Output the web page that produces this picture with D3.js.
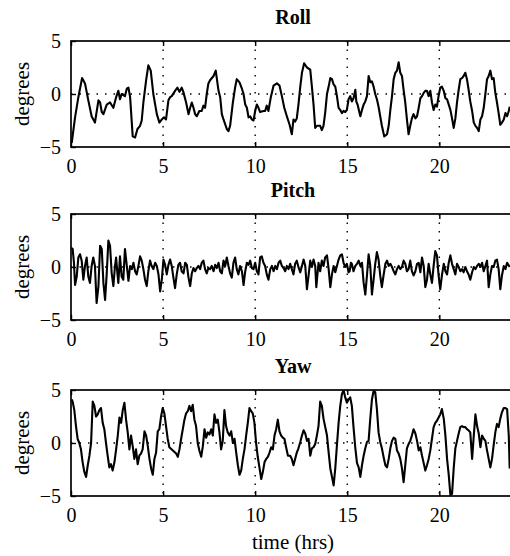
<!DOCTYPE html>
<html>
<head>
<meta charset="utf-8">
<script src="https://cdn.jsdelivr.net/npm/d3@7"></script>
<style>
  body { margin: 0; background: #fff; }
  text { font-family: "Liberation Serif", "Times New Roman", serif; fill: #000; }
</style>
</head>
<body>
<svg id="chart" width="510" height="556"></svg>
<script>
// Attitude angles over one day: [time (hrs), degrees]
const rollSamples = [[0.04,-4.6],[0.22,-2.2],[0.40,-0.3],[0.60,1.5],[0.76,1.0],[0.94,-0.6],[1.12,-2.1],[1.30,-2.7],[1.49,-0.6],[1.58,-0.8],[1.67,-1.7],[1.76,-1.9],[1.94,-1.0],[2.12,-0.8],[2.30,-1.3],[2.45,-0.3],[2.57,0.3],[2.66,-0.5],[2.75,0],[2.93,-0.2],[3.03,0.5],[3.12,0.6],[3.21,-0.3],[3.35,-4.0],[3.48,-4.1],[3.61,-3.3],[3.75,-3.0],[3.84,-2.5],[3.93,-0.8],[4.08,1.3],[4.20,2.7],[4.33,2.2],[4.47,0],[4.66,-1.9],[4.80,-2.7],[4.93,-2.4],[5.05,-2.2],[5.16,-2.4],[5.29,-0.6],[5.38,-0.3],[5.47,-0.2],[5.65,0.3],[5.78,0.6],[5.89,0.2],[6.01,0.6],[6.10,0.2],[6.25,-0.8],[6.38,-1.9],[6.47,-1.3],[6.56,-0.8],[6.65,-1.3],[6.74,-1.9],[6.83,-2.1],[6.97,-1.6],[7.10,-1.6],[7.19,-1.1],[7.28,-1.3],[7.37,0],[7.46,1.0],[7.55,1.3],[7.74,1.7],[7.86,2.2],[8.01,0.3],[8.10,-0.3],[8.19,-1.9],[8.28,-2.4],[8.46,-3.3],[8.55,-3.5],[8.64,-3.0],[8.79,-0.8],[8.91,0.6],[9.00,1.4],[9.15,1.1],[9.28,0.5],[9.37,0],[9.46,-1.0],[9.55,-1.3],[9.64,-2.2],[9.73,-2.1],[9.82,-2.4],[9.91,-2.5],[10.00,-1.6],[10.09,-1.0],[10.18,-1.3],[10.27,-1.7],[10.45,-1.6],[10.54,-1.6],[10.63,-1.1],[10.72,-1.6],[10.85,-0.3],[11.00,0.8],[11.18,1.0],[11.32,0.8],[11.45,-0.2],[11.58,-1.3],[11.72,-2.1],[11.87,-2.9],[11.99,-3.8],[12.08,-2.4],[12.17,-2.6],[12.26,-2.3],[12.35,-1.0],[12.45,0.7],[12.54,2.0],[12.66,2.9],[12.81,2.5],[12.99,2.3],[13.08,0.7],[13.17,-1.0],[13.26,-3.2],[13.35,-3.0],[13.53,-3.0],[13.62,-3.4],[13.71,-3.0],[13.80,-1.8],[13.90,0],[13.99,0.7],[14.08,1.5],[14.17,1.4],[14.26,0.9],[14.35,0.7],[14.44,-0.2],[14.53,-1.3],[14.62,-1.5],[14.71,-1.8],[14.80,-1.6],[14.89,-1.7],[14.98,-1.5],[15.07,-0.5],[15.16,-0.2],[15.25,-0.7],[15.34,-0.4],[15.44,0.4],[15.49,-0.7],[15.56,-1.0],[15.71,-2.1],[15.80,-1.5],[15.89,-1.0],[15.98,-0.7],[16.07,-0.2],[16.16,1.7],[16.25,1.1],[16.34,1.2],[16.43,0.7],[16.52,0],[16.61,-0.5],[16.70,-1.2],[16.79,-2.1],[16.88,-3.0],[17.01,-4.0],[17.16,-3.8],[17.25,-3.0],[17.34,-1.5],[17.43,-0.2],[17.52,1.4],[17.61,2.0],[17.70,2.2],[17.79,3.0],[17.88,2.0],[17.97,1.7],[18.06,0.4],[18.15,-0.8],[18.24,-2.4],[18.33,-3.8],[18.42,-3.0],[18.51,-2.3],[18.60,-1.9],[18.70,-2.3],[18.79,-2.1],[18.88,-1.3],[18.97,-0.4],[19.06,-0.2],[19.15,0.1],[19.24,0.3],[19.33,0.3],[19.42,-0.2],[19.51,0.3],[19.60,-0.8],[19.69,-1.5],[19.78,-1.0],[19.87,-1.2],[19.96,-0.2],[20.05,0.6],[20.14,0.7],[20.24,0.3],[20.33,-0.4],[20.42,-0.5],[20.60,-1.5],[20.69,-2.3],[20.78,-3.2],[20.87,-2.3],[20.96,-0.8],[21.05,0.4],[21.14,1.4],[21.23,1.5],[21.32,1.7],[21.41,2.0],[21.50,1.4],[21.59,0.4],[21.68,-0.7],[21.78,-1.6],[21.87,-2.7],[21.96,-3.0],[22.05,-3.2],[22.14,-3.5],[22.23,-2.4],[22.32,-2.1],[22.41,-1.3],[22.50,0],[22.59,1.4],[22.68,1.7],[22.77,2.2],[22.86,1.4],[22.95,1.5],[23.04,0.1],[23.13,-0.8],[23.22,-1.8],[23.31,-2.9],[23.40,-2.7],[23.50,-2.4],[23.59,-1.8],[23.68,-2.1],[23.77,-1.6],[23.82,-1.2]];

const pitchSamples = [[0.00,1.8],[0.09,1.7],[0.16,0.4],[0.22,-1.7],[0.31,-0.9],[0.40,0.9],[0.49,1.2],[0.58,0.6],[0.67,-1.2],[0.76,0.1],[0.85,0.9],[0.94,-0.9],[1.03,-1.5],[1.12,0.1],[1.21,0.9],[1.30,0.1],[1.39,-3.4],[1.49,-1.8],[1.58,2.0],[1.67,1.7],[1.76,-1.5],[1.85,-3.1],[1.94,-0.6],[2.03,2.5],[2.12,2.0],[2.21,-0.6],[2.30,-1.8],[2.39,0.1],[2.45,0.9],[2.52,-0.6],[2.57,-1.5],[2.66,1.0],[2.75,-0.9],[2.84,-1.2],[2.93,1.7],[3.03,0.1],[3.12,-1.3],[3.21,0.1],[3.30,-0.2],[3.39,0.4],[3.48,-0.4],[3.57,-0.7],[3.66,0.1],[3.75,1.0],[3.84,0.6],[3.93,-0.2],[4.02,-1.2],[4.11,-1.8],[4.20,-0.4],[4.29,0.6],[4.38,0.1],[4.47,-0.2],[4.57,0.4],[4.66,0.1],[4.75,-0.7],[4.84,-2.3],[4.93,-1.2],[5.02,0.7],[5.11,0.2],[5.20,-0.7],[5.29,0.2],[5.38,0.7],[5.47,0.1],[5.56,-1.0],[5.65,-2.0],[5.74,-0.7],[5.83,0.2],[5.92,0.4],[6.01,-0.4],[6.11,-0.6],[6.20,0.4],[6.29,0.2],[6.38,-1.0],[6.47,-1.8],[6.56,-0.6],[6.65,-0.1],[6.74,-0.4],[6.83,-0.1],[6.92,0.1],[7.01,-0.2],[7.10,0.4],[7.19,0.6],[7.28,-0.2],[7.37,-0.6],[7.46,-0.1],[7.55,-0.2],[7.64,0.1],[7.74,-0.4],[7.83,0.2],[7.92,-0.1],[8.01,0.4],[8.10,-0.4],[8.19,-0.6],[8.28,0.6],[8.37,0.1],[8.46,0.9],[8.55,0.1],[8.64,-0.6],[8.73,-1.0],[8.82,0.4],[8.91,0.9],[9.00,-0.2],[9.09,-0.7],[9.18,0.1],[9.28,-0.4],[9.37,-1.7],[9.46,-0.4],[9.55,0.4],[9.64,0.2],[9.73,0.6],[9.82,-0.1],[9.91,-0.2],[10.00,0.4],[10.09,-0.4],[10.18,-0.7],[10.27,0.9],[10.36,1.0],[10.45,0.4],[10.54,0.1],[10.63,-0.7],[10.72,-1.2],[10.82,-0.2],[10.91,0.1],[11.00,-0.4],[11.09,0.1],[11.18,-0.2],[11.27,0.4],[11.36,0.6],[11.45,0.1],[11.54,-0.1],[11.63,-0.4],[11.72,0.1],[11.81,-0.2],[11.90,0.3],[11.99,-0.2],[12.08,-0.7],[12.17,0.3],[12.26,0.6],[12.35,0],[12.45,-0.5],[12.54,0.1],[12.63,0.7],[12.72,0.1],[12.81,-2.1],[12.90,-0.8],[12.99,0.6],[13.08,0],[13.17,0.7],[13.26,0.1],[13.32,-1.9],[13.44,0.4],[13.53,-0.4],[13.62,0.6],[13.71,0.1],[13.80,0.9],[13.90,1.1],[13.99,-0.2],[14.08,-1.9],[14.17,-0.7],[14.26,0.1],[14.35,-0.5],[14.44,0.1],[14.53,0.7],[14.62,1.1],[14.71,1.2],[14.80,0.4],[14.89,0],[14.98,0.3],[15.07,-0.5],[15.13,-0.4],[15.20,0.4],[15.25,0.3],[15.34,-0.4],[15.44,0.1],[15.53,0.3],[15.62,0.6],[15.71,0.1],[15.80,0.4],[15.89,-1.5],[15.98,-2.6],[16.07,-0.8],[16.16,1.2],[16.25,0.1],[16.34,-2.6],[16.43,-1.2],[16.52,0.3],[16.61,1.4],[16.70,0.7],[16.79,-0.8],[16.88,-1.9],[16.97,-0.8],[17.07,0.3],[17.16,0.6],[17.25,0.1],[17.34,0.3],[17.43,0],[17.52,-0.4],[17.61,-0.7],[17.70,-0.2],[17.79,0.1],[17.88,-0.2],[17.97,0],[18.06,0.6],[18.15,0.3],[18.24,-0.4],[18.33,-0.2],[18.42,0.6],[18.51,-0.4],[18.60,-0.8],[18.70,-0.4],[18.79,0.3],[18.88,0.4],[18.97,-0.5],[19.06,0.9],[19.15,0.1],[19.24,-1.9],[19.33,-1.2],[19.42,0.3],[19.51,-0.7],[19.60,-1.5],[19.69,0.1],[19.78,1.5],[19.87,1.1],[19.96,-0.8],[20.05,-2.1],[20.14,-0.8],[20.24,0.3],[20.33,-0.4],[20.42,-0.7],[20.51,0.4],[20.60,1.1],[20.69,0.3],[20.78,-0.2],[20.87,-0.7],[20.96,0.3],[21.05,0],[21.14,-0.4],[21.23,-0.2],[21.32,-0.5],[21.41,0],[21.50,-0.4],[21.59,-0.7],[21.68,-1.2],[21.78,-0.5],[21.87,0],[21.96,-0.2],[22.05,0.1],[22.14,0.3],[22.23,0],[22.32,0.4],[22.41,-0.4],[22.50,0.1],[22.59,0.6],[22.68,-1.9],[22.77,-0.7],[22.86,0.1],[22.95,0],[23.04,0.6],[23.13,0.7],[23.22,-0.2],[23.31,-2.1],[23.40,-0.8],[23.50,0.1],[23.59,-0.2],[23.68,0.4],[23.82,0]];

const yawSamples = [[0.04,4.1],[0.09,3.9],[0.18,3.1],[0.27,1.6],[0.36,0.4],[0.45,0],[0.54,-0.6],[0.63,-1.8],[0.72,-2.7],[0.82,-3.2],[0.91,-2.1],[1.00,-1.2],[1.09,0],[1.18,3.9],[1.27,3.5],[1.36,2.5],[1.45,2.7],[1.54,3.1],[1.63,3.3],[1.72,1.9],[1.81,1.3],[1.90,0],[1.99,-1.2],[2.08,-2.3],[2.17,-2.0],[2.26,-2.6],[2.36,-1.8],[2.45,-0.6],[2.54,0.7],[2.63,2.4],[2.72,1.9],[2.81,3.1],[2.90,3.8],[2.99,2.2],[3.08,1.0],[3.17,-0.6],[3.26,0.7],[3.35,-0.3],[3.44,-1.5],[3.53,-0.6],[3.62,-2.0],[3.71,-1.2],[3.80,-1.0],[3.89,-0.6],[3.99,1.1],[4.08,0.7],[4.17,-0.3],[4.26,-1.5],[4.35,-2.4],[4.44,-3.0],[4.53,-1.5],[4.62,-0.9],[4.71,1.1],[4.80,1.3],[4.89,2.5],[4.98,3.3],[5.07,2.8],[5.16,1.6],[5.25,0.4],[5.34,-0.4],[5.53,-0.7],[5.71,-1.0],[5.80,-1.3],[5.89,-0.6],[5.98,0.4],[6.07,1.3],[6.16,2.2],[6.25,2.8],[6.34,3.0],[6.43,3.5],[6.52,3.0],[6.61,3.6],[6.70,2.2],[6.79,1.6],[6.88,0],[6.97,-0.7],[7.07,-1.3],[7.16,-0.3],[7.25,1.3],[7.34,0.5],[7.43,1.0],[7.52,0.8],[7.61,1.3],[7.70,0.7],[7.79,2.7],[7.88,1.9],[7.97,2.2],[8.06,1.0],[8.15,-0.6],[8.24,0.2],[8.33,3.1],[8.42,1.6],[8.51,1.0],[8.61,0.7],[8.70,1.1],[8.79,0],[8.88,0.4],[8.97,-0.9],[9.06,-2.1],[9.15,-3.0],[9.24,-2.6],[9.33,-1.5],[9.42,-0.6],[9.51,0.7],[9.60,1.9],[9.69,3.3],[9.78,3.0],[9.87,2.8],[9.96,1.9],[10.05,0],[10.14,-1.3],[10.24,-2.4],[10.33,-3.4],[10.42,-2.7],[10.51,-1.8],[10.60,-1.5],[10.69,-1.3],[10.78,-0.9],[10.87,-0.4],[10.96,-0.6],[11.05,0.7],[11.14,1.3],[11.23,2.2],[11.32,1.1],[11.41,0.7],[11.50,0.5],[11.59,0.4],[11.68,-0.4],[11.78,-1.2],[11.90,-1.2],[11.99,-1.5],[12.08,-2.1],[12.17,-1.5],[12.26,-0.9],[12.35,-0.5],[12.45,0.1],[12.54,0.7],[12.63,1.2],[12.72,0.9],[12.81,0.2],[12.90,0.4],[12.99,-1.2],[13.08,-0.5],[13.17,-0.4],[13.26,-0.1],[13.35,0.7],[13.44,1.6],[13.53,3.9],[13.62,3.5],[13.71,2.3],[13.90,0.7],[13.99,-0.9],[14.08,-2.4],[14.17,-3.2],[14.26,-4.0],[14.35,-2.4],[14.44,-0.2],[14.53,1.9],[14.62,3.5],[14.71,4.6],[14.80,5.0],[14.89,4.3],[14.98,3.8],[15.07,4.1],[15.16,4.3],[15.25,3.5],[15.34,1.5],[15.44,-0.5],[15.53,-1.9],[15.62,-2.3],[15.71,-3.2],[15.80,-2.1],[15.89,-1.2],[15.98,-0.5],[16.07,0.1],[16.16,0.2],[16.25,2.3],[16.34,4.1],[16.43,4.9],[16.52,4.8],[16.61,3.2],[16.70,1.0],[16.79,0.1],[16.88,-0.5],[16.97,-1.3],[17.07,-2.1],[17.16,-2.3],[17.25,-1.5],[17.34,-0.5],[17.43,0.2],[17.52,0.5],[17.61,0.4],[17.70,-0.7],[17.79,-1.0],[17.88,-1.5],[17.97,-2.4],[18.06,-3.7],[18.15,-2.1],[18.24,-0.5],[18.33,-0.1],[18.42,0.2],[18.51,0.7],[18.60,1.3],[18.70,0.9],[18.79,0.2],[18.88,-0.7],[18.97,-0.4],[19.06,-1.2],[19.15,-1.9],[19.24,-2.6],[19.33,-2.1],[19.42,-1.5],[19.51,-0.7],[19.60,0.4],[19.69,1.5],[19.78,1.9],[19.87,2.1],[19.96,2.4],[20.05,2.7],[20.14,3.2],[20.24,2.3],[20.33,0.7],[20.42,-1.5],[20.51,-3.0],[20.60,-4.9],[20.69,-4.8],[20.78,-2.4],[20.87,-0.5],[20.96,0.2],[21.05,0.9],[21.14,1.5],[21.23,1.6],[21.32,1.5],[21.41,1.5],[21.50,1.3],[21.59,1.2],[21.68,1.0],[21.78,-1.5],[21.87,0.7],[21.96,2.7],[22.05,1.6],[22.14,0.9],[22.23,-0.4],[22.32,0.7],[22.41,0.4],[22.50,0.2],[22.59,-0.7],[22.68,-1.5],[22.77,-2.3],[22.86,-1.5],[22.95,-0.2],[23.04,1.0],[23.13,1.8],[23.22,1.5],[23.31,2.3],[23.40,2.9],[23.50,3.3],[23.59,3.3],[23.68,3.2],[23.77,0.7],[23.82,-2.4]];

const panelTitles = ["Roll", "Pitch", "Yaw"];
const timeTicks = [0, 5, 10, 15, 20];
const gridTimes = [5, 10, 15, 20];
const degreeTicks = [-5, 0, 5];
const timeDomain = [0, 24];
const degreeDomain = [-5, 5];

const svg = d3.select("#chart");
const left = 71, right = 513, panelH = 106;
const panelTops = [41, 214, 390];
const series = [rollSamples, pitchSamples, yawSamples];

const x = d3.scaleLinear().domain(timeDomain).range([left, right]);

panelTitles.forEach((title, i) => {
  const top = panelTops[i];
  const bottom = top + panelH;
  const y = d3.scaleLinear().domain(degreeDomain).range([bottom, top]);
  const g = svg.append("g");

  // clip region for the trace
  const clipId = "clip-" + i;
  svg.append("clipPath").attr("id", clipId)
    .append("rect").attr("x", left).attr("y", top)
    .attr("width", right - left).attr("height", panelH);

  // dotted grid
  g.selectAll("line.vgrid").data(gridTimes).enter().append("line")
    .attr("x1", d => x(d)).attr("x2", d => x(d))
    .attr("y1", top).attr("y2", bottom)
    .attr("stroke", "#000").attr("stroke-width", 1.4)
    .attr("stroke-dasharray", "1.5,7");
  g.append("line")
    .attr("x1", left).attr("x2", right)
    .attr("y1", y(0)).attr("y2", y(0))
    .attr("stroke", "#000").attr("stroke-width", 1.4)
    .attr("stroke-dasharray", "1.5,7");

  // trace
  const line = d3.line().x(d => x(d[0])).y(d => y(d[1]));
  g.append("path").datum(series[i])
    .attr("clip-path", `url(#${clipId})`)
    .attr("d", line)
    .attr("fill", "none").attr("stroke", "#000")
    .attr("stroke-width", 2.1).attr("stroke-linejoin", "round");

  // axes with inward ticks
  const xAxis = d3.axisBottom(x).tickValues(timeTicks).tickSizeInner(-5).tickSizeOuter(0).tickPadding(12);
  const gx = g.append("g").attr("transform", `translate(0,${bottom})`).call(xAxis);
  const xTop = d3.axisTop(x).tickValues(timeTicks).tickSizeInner(-5).tickSizeOuter(0).tickFormat("");
  const gxt = g.append("g").attr("transform", `translate(0,${top})`).call(xTop);
  const yAxis = d3.axisLeft(y).tickValues(degreeTicks).tickSizeInner(-5).tickSizeOuter(0).tickPadding(10);
  const gy = g.append("g").attr("transform", `translate(${left},0)`).call(yAxis);
  [gx, gxt, gy].forEach(a => {
    a.select(".domain").remove();
    a.selectAll(".tick line").attr("stroke", "#000").attr("stroke-width", 1.4);
    a.selectAll("text").attr("font-size", 20).attr("fill", "#000")
      .attr("font-family", "'Liberation Serif', 'Times New Roman', serif");
  });

  // frame
  g.append("rect")
    .attr("x", left).attr("y", top)
    .attr("width", right - left).attr("height", panelH)
    .attr("fill", "none").attr("stroke", "#000").attr("stroke-width", 1.7);

  // title
  svg.append("text")
    .attr("x", (left + right) / 2 + 1).attr("y", top - 17)
    .attr("text-anchor", "middle")
    .attr("font-size", 20).attr("font-weight", "bold")
    .text(title);

  // y label
  svg.append("text")
    .attr("transform", `translate(29,${(top + bottom) / 2}) rotate(-90)`)
    .attr("text-anchor", "middle")
    .attr("font-size", 21)
    .text("degrees");
});

svg.append("text")
  .attr("x", (left + right) / 2 + 1).attr("y", 549)
  .attr("text-anchor", "middle")
  .attr("font-size", 21)
  .text("time (hrs)");
</script>
</body>
</html>
